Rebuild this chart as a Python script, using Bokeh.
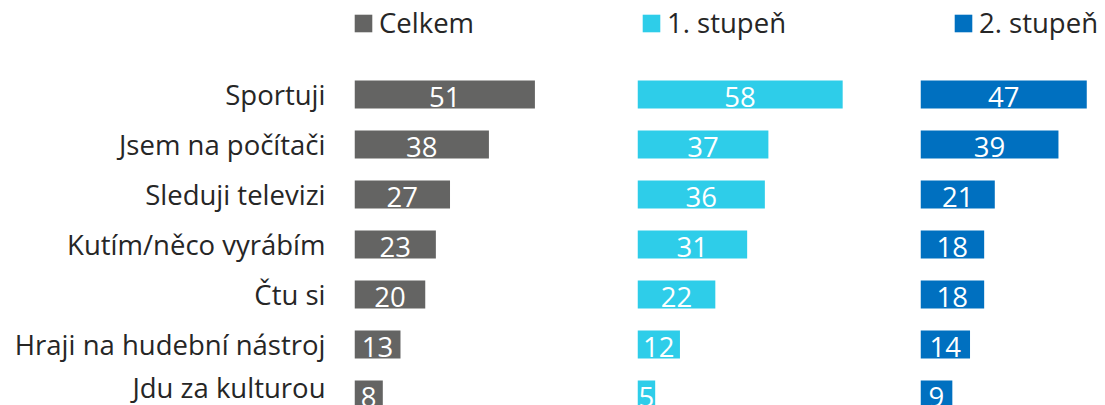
from bokeh.plotting import figure
from bokeh.layouts import row
from bokeh.models import Range1d, FixedTicker, Legend, LegendItem, ColumnDataSource
from bokeh.core.properties import value
from bokeh.embed import file_html
from bokeh.resources import INLINE

categories = ["Sportuji", "Jsem na počítači", "Sleduji televizi", "Kutím/něco vyrábím",
              "Čtu si", "Hraji na hudební nástroj", "Jdu za kulturou"]
series_names = ["Celkem", "1. stupeň", "2. stupeň"]
celkem = [51, 38, 27, 23, 20, 13, 8]
stupen1 = [58, 37, 36, 31, 22, 12, 5]
stupen2 = [47, 39, 21, 18, 18, 14, 9]

colors = ["#646463", "#2ECDE9", "#0070C0"]
FONT = "Open Sans"
FS = "27.5px"
TXT = "#262626"

ys = list(range(len(categories)))
top_border = 8
frame_h = 397
y_top = -1.72
y_bot = y_top + frame_h / 50.0

def make(vals, name, color, width, xmax, left_border, legend_x, with_axis):
    p = figure(width=width, height=frame_h + top_border, output_backend="svg",
               toolbar_location=None,
               x_range=Range1d(0, xmax), y_range=Range1d(y_bot, y_top),
               min_border_left=left_border, min_border_right=0,
               min_border_top=top_border, min_border_bottom=0,
               outline_line_color=None,
               x_axis_location=None, y_axis_location="left" if with_axis else None)
    p.xgrid.visible = False
    p.ygrid.visible = False
    src = ColumnDataSource(dict(y=ys, v=vals, half=[v / 2 for v in vals],
                                lab=[str(v) for v in vals]))
    r = p.hbar(y="y", left=0, right="v", height=0.56, source=src,
               fill_color=color, line_color=None)
    p.text(x="half", y="y", text="lab", source=src, text_color="white",
           text_font=value(FONT), text_font_size=FS, text_align="center",
           text_baseline="middle", y_offset=2)
    if with_axis:
        ax = p.yaxis[0]
        ax.ticker = FixedTicker(ticks=ys)
        ax.major_label_overrides = {i: c for i, c in enumerate(categories)}
        ax.axis_line_color = None
        ax.major_tick_line_color = None
        ax.minor_tick_line_color = None
        ax.major_tick_out = 0
        ax.major_label_standoff = 29
        ax.major_label_text_font = FONT
        ax.major_label_text_font_size = FS
        ax.major_label_text_color = TXT
    leg = Legend(items=[LegendItem(label=name, renderers=[r])],
                 location=(legend_x, frame_h + 1 - 34), orientation="horizontal",
                 padding=0, margin=0, spacing=0, border_line_color=None,
                 background_fill_alpha=0, glyph_width=22, glyph_height=22,
                 label_standoff=5, label_height=34,
                 label_text_font=FONT, label_text_font_size=FS,
                 label_text_color=TXT)
    p.add_layout(leg, "center")
    return p

scale = 283 / 80.0
p1 = make(celkem, series_names[0], colors[0], 354 + 283, 80, 354, -2, True)
p2 = make(stupen1, series_names[1], colors[1], 283, 80, 0, 3, False)
p3 = make(stupen2, series_names[2], colors[2], 184, 184 / scale, 0, 32, False)

layout = row(p1, p2, p3, spacing=0)
open("out.html", "w").write(file_html(layout, INLINE))
